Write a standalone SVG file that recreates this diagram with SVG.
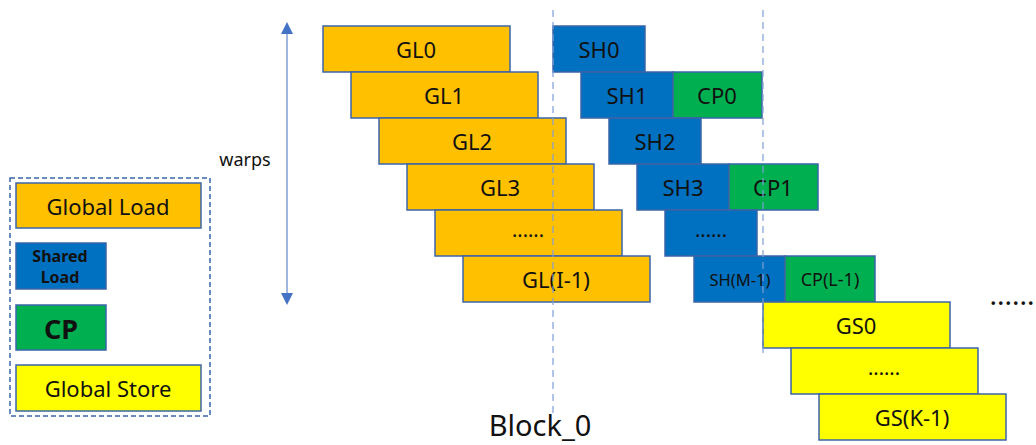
<svg xmlns="http://www.w3.org/2000/svg" width="1036" height="445" viewBox="0 0 1036 445">
  <style>
    .box { stroke: #3B64A8; stroke-width: 1.5; }
    .gl { fill: #FFC000; }
    .sh { fill: #0070C0; }
    .cp { fill: #00B050; }
    .gs { fill: #FFFF00; }
    text { font-family: "Noto Sans", "Liberation Sans", sans-serif; fill: #111; text-anchor: middle; dominant-baseline: central; }
    .lbl { font-size: 22px; }
    .dots { font-size: 20px; }
    .guide { stroke: #7F9FD6; stroke-width: 1.2; stroke-dasharray: 7 5; fill: none; }
  </style>
  <defs>
    <marker id="tri" viewBox="0 0 10 10" refX="5" refY="5" markerWidth="12" markerHeight="12" markerUnits="userSpaceOnUse" orient="auto-start-reverse">
      <path d="M0,0 L10,5 L0,10 z" fill="#4472C4"/>
    </marker>
  </defs>

  <!-- connectors -->
  <g id="connectors">
    <line x1="287" y1="28" x2="287" y2="299" stroke="#7F9FD6" stroke-width="1.5" marker-start="url(#tri)" marker-end="url(#tri)"/>
  </g>
  <text x="245" y="159" style="font-size:18px">warps</text>

  <!-- global loads -->
  <g id="gl0"><rect class="box gl" x="323" y="26" width="187" height="46"/><text class="lbl" x="416" y="49">GL0</text></g>
  <g id="gl1"><rect class="box gl" x="351" y="72" width="187" height="46"/><text class="lbl" x="444" y="95">GL1</text></g>
  <g id="gl2"><rect class="box gl" x="379" y="118" width="187" height="46"/><text class="lbl" x="472" y="141">GL2</text></g>
  <g id="gl3"><rect class="box gl" x="407" y="164" width="187" height="46"/><text class="lbl" x="500" y="187">GL3</text></g>
  <g id="gl-more"><rect class="box gl" x="435" y="210" width="187" height="46"/><text class="dots" x="528" y="229">......</text></g>
  <g id="gl-last"><rect class="box gl" x="463" y="256" width="187" height="46"/><text class="lbl" x="556" y="279">GL(I-1)</text></g>

  <!-- shared loads and compute -->
  <g id="sh0"><rect class="box sh" x="553" y="26" width="92" height="46"/><text class="lbl" x="599" y="49">SH0</text></g>
  <g id="sh1"><rect class="box sh" x="581" y="72" width="92" height="46"/><text class="lbl" x="627" y="95">SH1</text></g>
  <g id="cp0"><rect class="box cp" x="673" y="72" width="89" height="46"/><text class="lbl" x="717" y="95">CP0</text></g>
  <g id="sh2"><rect class="box sh" x="609" y="118" width="92" height="46"/><text class="lbl" x="655" y="141">SH2</text></g>
  <g id="sh3"><rect class="box sh" x="637" y="164" width="92" height="46"/><text class="lbl" x="683" y="187">SH3</text></g>
  <g id="cp1"><rect class="box cp" x="729" y="164" width="89" height="46"/><text class="lbl" x="773" y="187">CP1</text></g>
  <g id="sh-more"><rect class="box sh" x="665" y="210" width="92" height="46"/><text class="dots" x="711" y="229">......</text></g>
  <g id="sh-last"><rect class="box sh" x="694" y="256" width="91" height="46"/><text x="740" y="279" style="font-size:16.5px">SH(M-1)</text></g>
  <g id="cp-last"><rect class="box cp" x="785" y="256" width="90" height="46"/><text x="830" y="279" style="font-size:18px">CP(L-1)</text></g>

  <!-- global stores -->
  <g id="gs0"><rect class="box gs" x="763" y="302" width="187" height="46"/><text class="lbl" x="856" y="325">GS0</text></g>
  <g id="gs-more"><rect class="box gs" x="791" y="348" width="187" height="46"/><text class="dots" x="884" y="367">......</text></g>
  <g id="gs-last"><rect class="box gs" x="819" y="394" width="187" height="46"/><text class="lbl" x="912" y="417">GS(K-1)</text></g>

  <!-- dashed timing guides, drawn over the bars -->
  <g id="guides">
    <line class="guide" x1="553" y1="10" x2="553" y2="418"/>
    <line class="guide" x1="763" y1="10" x2="763" y2="355"/>
  </g>

  <text x="1012" y="294" style="font-size:28px">......</text>
  <text x="540" y="424" style="font-size:29px">Block_0</text>

  <!-- legend -->
  <g id="legend">
    <rect x="10" y="178" width="200" height="238" fill="none" stroke="#3B64A8" stroke-width="1.5" stroke-dasharray="5 3"/>
    <rect class="box gl" x="16" y="183" width="185" height="45"/><text class="lbl" x="108" y="206">Global Load</text>
    <rect class="box sh" x="16" y="243" width="90" height="46"/>
    <text x="60" y="256" style="font-size:16px;font-weight:bold">Shared</text>
    <text x="60" y="277" style="font-size:16px;font-weight:bold">Load</text>
    <rect class="box cp" x="16" y="305" width="90" height="45"/><text x="61" y="328" style="font-size:27px;font-weight:bold">CP</text>
    <rect class="box gs" x="16" y="365" width="185" height="46"/><text class="lbl" x="108" y="388">Global Store</text>
  </g>
</svg>
